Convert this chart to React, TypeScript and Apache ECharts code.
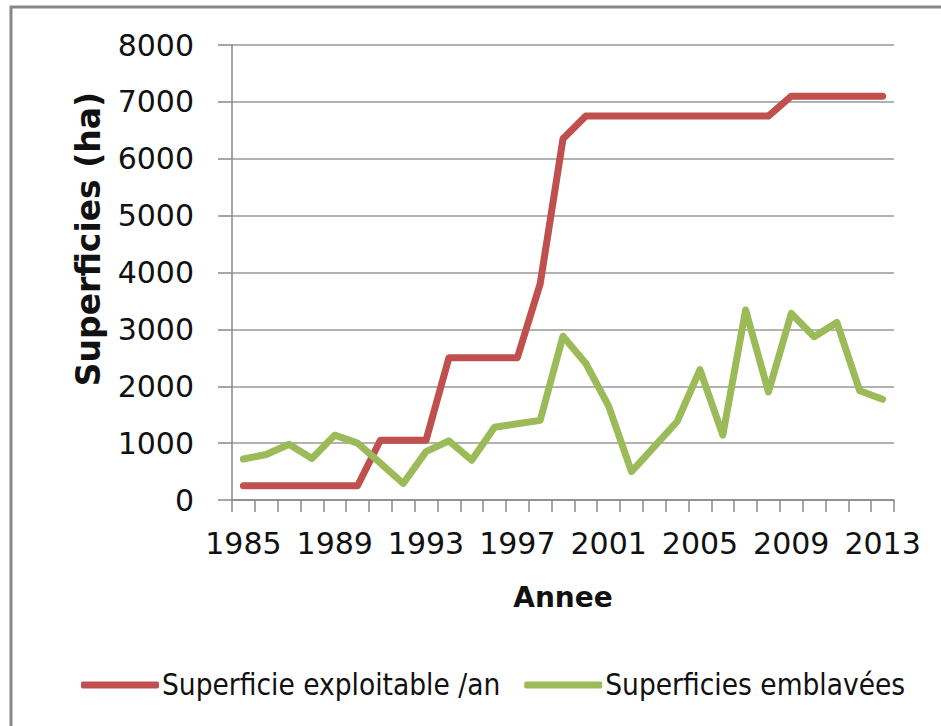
import React, { useEffect, useRef } from "react";
import * as echarts from "echarts";

const years = [
  "1985", "1986", "1987", "1988", "1989", "1990", "1991", "1992", "1993", "1994",
  "1995", "1996", "1997", "1998", "1999", "2000", "2001", "2002", "2003", "2004",
  "2005", "2006", "2007", "2008", "2009", "2010", "2011", "2012", "2013",
];

const superficieExploitable = [
  250, 250, 250, 250, 250, 250, 1050, 1050, 1050, 2500,
  2500, 2500, 2500, 3800, 6350, 6750, 6750, 6750, 6750, 6750,
  6750, 6750, 6750, 6750, 7100, 7100, 7100, 7100, 7100,
];

const superficiesEmblavees = [
  720, 800, 980, 730, 1140, 1000, 650, 290, 850, 1040,
  700, 1280, 1340, 1400, 2880, 2400, 1650, 500, 940, 1380,
  2290, 1140, 3340, 1900, 3280, 2870, 3120, 1920, 1770,
];

const seriesNames = ["Superficie exploitable /an", "Superficies emblavées"];
const seriesColors = ["#C0504D", "#9BBB59"];
const yTitle = "Superficies (ha)";
const xTitle = "Annee";

export default function App() {
  const ref = useRef<HTMLDivElement>(null);
  useEffect(() => {
    document.body.style.margin = "0";
    const chart = echarts.init(ref.current!, null, { renderer: "svg" });
    chart.setOption({
      animation: false,
      backgroundColor: "#ffffff",
      grid: { left: 232, right: 47, top: 45, bottom: 226, containLabel: false },
      graphic: [
        {
          type: "rect",
          shape: { x: 11, y: 7, width: 1000, height: 800 },
          style: { fill: "none", stroke: "#878787", lineWidth: 3 },
          silent: true,
        },
        {
          type: "text",
          x: 88,
          y: 239,
          rotation: Math.PI / 2,
          silent: true,
          style: {
            text: yTitle,
            fontFamily: "DejaVu Sans, sans-serif",
            fontWeight: "bold",
            fontSize: 33,
            fill: "#111",
            align: "center",
            verticalAlign: "middle",
          },
        },
      ],
      legend: {
        left: 76,
        top: 665,
        itemWidth: 78,
        itemHeight: 7,
        itemGap: 24,
        icon: "roundRect",
        textStyle: {
          fontFamily: "DejaVu Sans Condensed, DejaVu Sans, sans-serif",
          fontSize: 29.5,
          color: "#111",
          padding: [0, 0, 0, -2],
        },
        data: seriesNames,
      },
      xAxis: {
        type: "category",
        data: years,
        boundaryGap: true,
        name: xTitle,
        nameLocation: "middle",
        nameGap: 83,
        nameTextStyle: {
          fontFamily: "DejaVu Sans, sans-serif",
          fontWeight: "bold",
          fontSize: 28,
          color: "#111",
        },
        axisLine: { show: true, lineStyle: { color: "#888", width: 1.5 } },
        axisTick: { show: true, interval: 0, length: 12, lineStyle: { color: "#888", width: 1.5 } },
        axisLabel: {
          interval: 3,
          margin: 28,
          fontFamily: "DejaVu Sans, sans-serif",
          fontSize: 30,
          color: "#111",
        },
        splitLine: { show: false },
      },
      yAxis: {
        type: "value",
        min: 0,
        max: 8000,
        interval: 1000,
        axisLine: { show: true, lineStyle: { color: "#888", width: 1.5 } },
        axisTick: { show: true, length: 14, lineStyle: { color: "#888", width: 1.5 } },
        axisLabel: {
          margin: 38,
          fontFamily: "DejaVu Sans, sans-serif",
          fontSize: 30,
          color: "#111",
          formatter: (v: number) => String(v),
        },
        splitLine: { show: true, lineStyle: { color: "#999", width: 1.5 } },
      },
      series: [
        {
          name: seriesNames[0],
          type: "line",
          data: superficieExploitable,
          symbol: "none",
          color: seriesColors[0],
          lineStyle: { width: 7, color: seriesColors[0], cap: "round", join: "round" },
        },
        {
          name: seriesNames[1],
          type: "line",
          data: superficiesEmblavees,
          symbol: "none",
          color: seriesColors[1],
          lineStyle: { width: 7, color: seriesColors[1], cap: "round", join: "round" },
        },
      ],
    });
    return () => chart.dispose();
  }, []);
  return <div ref={ref} style={{ width: 941, height: 726, position: "absolute", left: 0, top: 0 }} />;
}
